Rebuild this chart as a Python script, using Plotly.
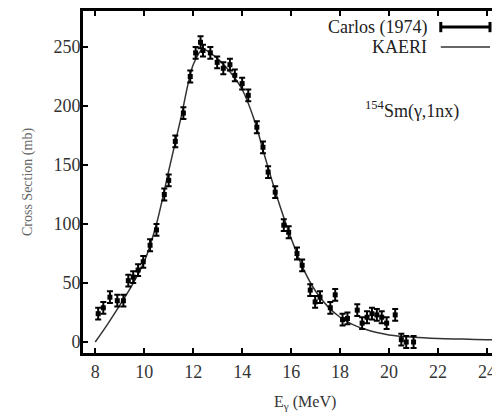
import plotly.graph_objects as go

# Carlos (1974) experimental data
exp_E = [8.12, 8.33, 8.6, 8.9, 9.15, 9.35, 9.55, 9.75, 9.96, 10.24, 10.5, 10.82, 11.0,
         11.27, 11.6, 11.88, 12.1, 12.3, 12.4, 12.7, 12.98, 13.23, 13.5, 13.7, 14.0,
         14.25, 14.6, 14.85, 15.06, 15.35, 15.7, 15.9, 16.24, 16.45, 16.78, 16.98,
         17.18, 17.6, 17.8, 18.1, 18.3, 18.7, 18.9, 19.1, 19.3, 19.5, 19.7, 19.9,
         20.25, 20.5, 20.7, 21.0]
exp_sigma = [24, 29, 38, 35, 35, 52, 55, 61, 68, 82, 95, 125, 137,
             170, 194, 225, 245, 254, 247, 245, 237, 232, 235, 226, 219,
             209, 182, 165, 144, 127, 99, 93, 75, 65, 44, 34,
             38, 29, 40, 19, 20, 27, 16, 21, 24, 23, 21, 16,
             23, 2, 0, 0]
exp_err = [5] * len(exp_E)

# KAERI evaluation
kaeri_E = [8.0, 8.5, 9.0, 9.5, 10.0, 10.5, 11.0, 11.5, 12.0, 12.4, 13.0, 13.5, 14.0,
           14.5, 15.0, 15.5, 16.0, 16.5, 17.0, 17.5, 18.0, 18.5, 19.0, 19.5, 20.0,
           21.0, 22.0, 23.0, 24.0, 25.0]
kaeri_sigma = [0, 15, 31, 48, 68, 100, 145, 190, 235, 248, 240, 229, 214,
               188, 152, 118, 88, 62, 43, 30, 21, 15, 11, 8, 6,
               4, 3, 2.5, 2, 2]

serif = "Liberation Serif, Times New Roman, serif"

fig = go.Figure()
fig.add_trace(go.Scatter(
    x=kaeri_E, y=kaeri_sigma, mode="lines", name="KAERI",
    line=dict(color="#333333", width=1.5, shape="spline", smoothing=0.8),
    showlegend=False,
))
fig.add_trace(go.Scatter(
    x=exp_E, y=exp_sigma, mode="markers", name="Carlos (1974)",
    marker=dict(symbol="square", size=5, color="black"),
    error_y=dict(type="data", array=exp_err, color="black", thickness=2, width=3),
    showlegend=False,
))

# Legend drawn gnuplot-style (text left of sample)
fig.add_annotation(x=0.83, y=0.953, xref="paper", yref="paper", text="Carlos (1974)",
                   showarrow=False, xanchor="right", yanchor="middle",
                   font=dict(family=serif, size=18, color="#222222"))
fig.add_annotation(x=0.83, y=0.895, xref="paper", yref="paper", text="KAERI",
                   showarrow=False, xanchor="right", yanchor="middle",
                   font=dict(family=serif, size=18, color="#222222"))
fig.add_shape(type="line", xref="paper", yref="paper", x0=0.858, x1=0.976, y0=0.953, y1=0.953,
              line=dict(color="black", width=3))
fig.add_shape(type="line", xref="paper", yref="paper", x0=0.858, x1=0.858, y0=0.938, y1=0.968,
              line=dict(color="black", width=3))
fig.add_shape(type="line", xref="paper", yref="paper", x0=0.976, x1=0.976, y0=0.938, y1=0.968,
              line=dict(color="black", width=3))
fig.add_shape(type="line", xref="paper", yref="paper", x0=0.858, x1=0.976, y0=0.895, y1=0.895,
              line=dict(color="#333333", width=1.5))

fig.add_annotation(x=0.79, y=0.71, xref="paper", yref="paper",
                   text="<sup>154</sup>Sm(γ,1nx)", showarrow=False,
                   xanchor="center", yanchor="middle",
                   font=dict(family=serif, size=18, color="#222222"))

# x-axis title placed as in the reference
fig.add_annotation(x=0.532, y=-0.146, xref="paper", yref="paper",
                   text="E<sub>γ</sub> (MeV)", showarrow=False,
                   xanchor="center", yanchor="middle",
                   font=dict(family=serif, size=16, color="#333333"))

# page body has an 8px default margin; figure sized so plot area lands as in reference
fig.update_layout(
    width=492, height=409,
    margin=dict(l=75, r=0, t=3, b=64),
    paper_bgcolor="white", plot_bgcolor="white",
    font=dict(family=serif, size=18, color="#333333"),
    xaxis=dict(
        range=[7.5, 24.53], dtick=2, tick0=8, automargin=False,
        showline=True, linecolor="black", linewidth=3, mirror="ticks",
        ticks="inside", ticklen=5, tickwidth=2, tickcolor="black",
        showgrid=False, zeroline=False,
        tickfont=dict(family=serif, size=18, color="#333333"),
    ),
    yaxis=dict(
        range=[-9.3, 280.5], dtick=50, tick0=0, automargin=False,
        showline=True, linecolor="black", linewidth=3, mirror=False,
        ticks="inside", ticklen=5, tickwidth=2, tickcolor="black",
        ticklabelstandoff=-4,
        showgrid=False, zeroline=False,
        tickfont=dict(family=serif, size=18, color="#333333"),
        title=dict(text="Cross Section (mb)", standoff=18,
                   font=dict(family=serif, size=14, color="#666666")),
    ),
)

fig.write_html("out.html")
